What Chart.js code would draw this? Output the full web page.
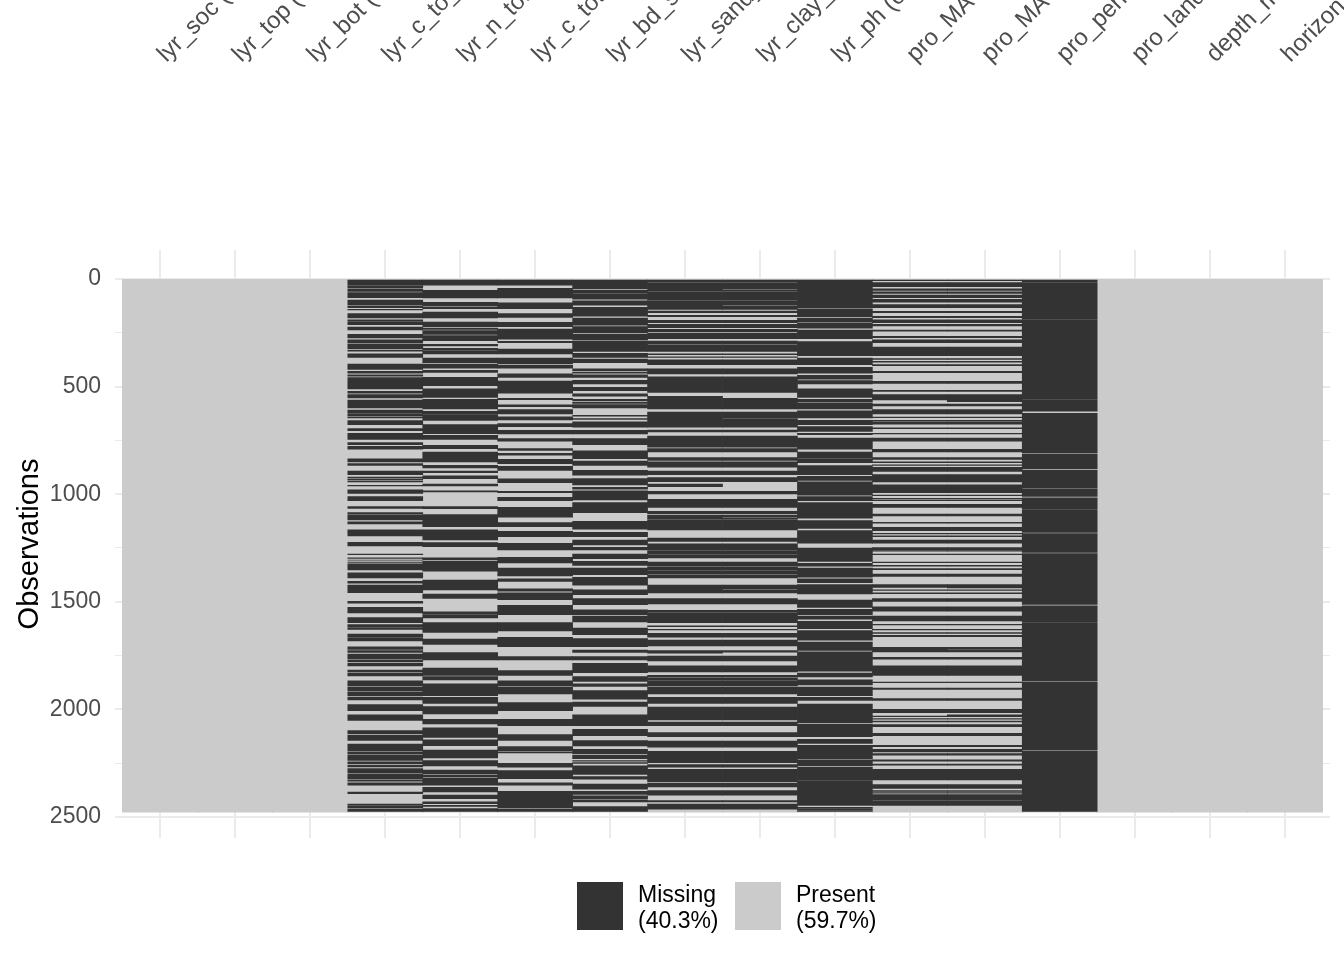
<!DOCTYPE html>
<html lang="en">
<head>
<meta charset="UTF-8">
<title>Missing values by variable</title>
<script src="https://cdn.jsdelivr.net/npm/chart.js"></script>
<style>
  body { margin: 0; background: #ffffff; font-family: 'Liberation Sans', Arial, sans-serif; }
  #wrap { position: relative; width: 1344px; height: 960px; }
  .key { position: absolute; top: 882px; width: 46px; height: 48px; }
  .lab { position: absolute; top: 881px; font-size: 23px; line-height: 26px; color: #000; white-space: nowrap; }
</style>
</head>
<body>
<div id="wrap">
  <canvas id="missChart"></canvas>
  <div class="key" style="left:577px;background:#333333"></div>
  <div class="lab" style="left:638px">Missing<br>(40.3%)</div>
  <div class="key" style="left:735px;background:#CBCBCB"></div>
  <div class="lab" style="left:796px">Present<br>(59.7%)</div>
</div>
<script>
// variable names (only the part visible in the picture)
const columns = ["lyr_soc (", "lyr_top (", "lyr_bot (", "lyr_c_to_", "lyr_n_tot", "lyr_c_tot",
  "lyr_bd_s", "lyr_sand_", "lyr_clay_", "lyr_ph (c", "pro_MA", "pro_MA", "pro_perm", "pro_land",
  "depth_m", "horizon"];
const nRows = 2475;
const majorTicks = [0, 500, 1000, 1500, 2000, 2500];
const minorTicks = [250, 750, 1250, 1750, 2250];

// missing runs [first row, last row] per variable
const miss_lyr_c_to = [[0,28],[32,40],[45,57],[63,87],[98,122],[127,133],[141,144],[161,181],[190,197],[201,212],[223,237],[257,274],[283,297],
  [302,325],[331,335],[348,364],[395,420],[429,438],[445,452],[458,511],[522,531],[537,553],[562,599],[609,624],[629,635],[640,646],[658,677],
  [695,705],[717,745],[760,770],[778,791],[836,850],[858,866],[892,909],[920,925],[931,934],[939,943],[959,962],[980,996],[1011,1030],
  [1058,1066],[1086,1092],[1096,1120],[1129,1138],[1166,1194],[1224,1241],[1278,1281],[1296,1298],[1306,1307],[1315,1317],[1324,1352],
  [1365,1389],[1405,1414],[1423,1458],[1498,1507],[1526,1552],[1574,1597],[1606,1616],[1620,1628],[1650,1662],[1667,1682],[1709,1721],
  [1727,1736],[1743,1764],[1770,1780],[1786,1798],[1817,1826],[1832,1845],[1867,1891],[1897,1913],[1919,1938],[1944,1956],[1978,2006],
  [2025,2052],[2099,2114],[2121,2145],[2161,2192],[2198,2206],[2212,2237],[2244,2254],[2260,2268],[2275,2294],[2300,2322],[2328,2334],
  [2341,2353],[2384,2392],[2440,2446],[2451,2458],[2464,2475]];
const miss_lyr_n_tot = [[0,28],[53,88],[108,125],[130,138],[153,181],[200,223],[229,234],[240,257],[263,287],[304,311],[322,328],[332,348],
  [367,389],[395,414],[424,434],[457,496],[510,550],[559,604],[615,627],[630,657],[677,719],[726,745],[773,788],[804,850],[866,878],[892,900],
  [915,928],[953,962],[984,990],[1058,1067],[1095,1151],[1166,1213],[1225,1244],[1296,1306],[1312,1358],[1399,1445],[1464,1485],[1547,1555],
  [1559,1575],[1597,1643],[1674,1698],[1736,1770],[1808,1842],[1848,1863],[1882,1936],[1944,1972],[1987,2021],[2046,2068],[2086,2130],
  [2142,2169],[2189,2226],[2238,2263],[2282,2300],[2306,2314],[2319,2322],[2325,2353],[2362,2384],[2399,2415],[2430,2438],[2446,2451],[2461,2475]];
const miss_lyr_c_tot = [[0,28],[43,88],[110,138],[160,178],[201,221],[232,280],[290,296],[325,348],[367,395],[401,414],[440,457],[474,531],
  [554,561],[585,593],[607,627],[640,655],[672,686],[703,720],[742,754],[788,796],[810,819],[838,858],[870,889],[929,946],[987,993],
  [1015,1030],[1061,1107],[1132,1151],[1173,1197],[1228,1259],[1293,1320],[1343,1380],[1393,1405],[1440,1451],[1458,1490],[1516,1560],
  [1597,1636],[1665,1709],[1755,1770],[1820,1842],[1867,1891],[1897,1928],[1969,2006],[2046,2076],[2117,2145],[2173,2192],[2198,2203],
  [2251,2269],[2285,2322],[2341,2353],[2381,2415],[2418,2458],[2464,2475]];
const miss_lyr_bd = [[0,45],[51,67],[71,94],[101,121],[132,138],[141,172],[181,214],[221,249],[256,283],[288,302],[302,336],[345,364],
  [372,389],[417,426],[432,438],[445,457],[471,488],[503,519],[534,544],[559,565],[572,578],[584,599],[633,637],[649,652],[664,688],
  [703,720],[742,770],[798,835],[846,866],[889,912],[928,957],[968,977],[984,1027],[1039,1086],[1126,1163],[1177,1197],[1213,1236],
  [1247,1259],[1278,1300],[1312,1331],[1343,1374],[1386,1423],[1445,1467],[1485,1513],[1538,1560],[1566,1594],[1622,1653],[1671,1709],
  [1724,1736],[1755,1770],[1786,1829],[1848,1870],[1882,1894],[1913,1953],[1966,1987],[2025,2076],[2093,2122],[2145,2170],[2186,2206],
  [2213,2229],[2238,2241],[2248,2251],[2263,2303],[2313,2325],[2347,2371],[2381,2396],[2402,2415],[2421,2430],[2452,2475]];
const miss_lyr_sand = [[0,12],[16,58],[62,96],[100,141],[149,156],[169,175],[192,203],[211,226],[234,246],[252,277],[288,302],[306,336],
  [348,352],[361,364],[376,398],[417,441],[454,527],[545,604],[618,688],[702,711],[730,781],[788,804],[830,843],[850,874],[892,909],
  [923,942],[953,965],[987,999],[1024,1061],[1080,1092],[1098,1117],[1121,1166],[1204,1219],[1231,1261],[1265,1277],[1281,1296],
  [1315,1335],[1339,1354],[1358,1372],[1376,1389],[1423,1459],[1485,1510],[1540,1550],[1554,1597],[1612,1616],[1628,1631],[1647,1665],
  [1678,1705],[1727,1739],[1752,1775],[1798,1826],[1842,1851],[1855,1866],[1870,1891],[1897,1928],[1944,1972],[1990,2049],[2059,2076],
  [2108,2127],[2148,2176],[2195,2248],[2257,2269],[2279,2337],[2344,2361],[2378,2399],[2424,2430],[2440,2464]];
const miss_lyr_clay = [[0,12],[16,46],[50,58],[62,96],[100,120],[124,141],[149,156],[169,175],[192,203],[211,226],[234,246],[252,277],
  [288,302],[306,336],[348,352],[361,364],[376,398],[417,441],[454,527],[554,604],[618,644],[648,688],[702,711],[730,781],[788,804],
  [830,843],[850,874],[892,909],[923,942],[987,999],[1024,1061],[1080,1092],[1098,1106],[1110,1117],[1121,1166],[1204,1219],[1231,1261],
  [1265,1277],[1281,1296],[1315,1335],[1339,1354],[1358,1372],[1376,1389],[1423,1440],[1444,1459],[1485,1510],[1540,1550],[1554,1597],
  [1612,1616],[1628,1631],[1647,1665],[1678,1705],[1727,1734],[1752,1775],[1798,1826],[1842,1851],[1855,1866],[1870,1891],[1897,1928],
  [1944,1972],[1990,2049],[2059,2076],[2108,2127],[2148,2176],[2195,2248],[2257,2269],[2279,2337],[2344,2361],[2378,2399],[2424,2430],[2440,2464]];
const miss_lyr_ph = [[0,133],[139,175],[181,198],[204,228],[237,277],[291,356],[367,398],[410,438],[448,465],[472,488],[510,550],[559,572],
  [578,604],[612,646],[657,677],[686,708],[717,723],[739,791],[804,832],[836,853],[867,909],[917,936],[943,1004],[1011,1030],[1039,1112],
  [1123,1159],[1169,1228],[1250,1312],[1321,1334],[1343,1386],[1393,1411],[1420,1464],[1492,1526],[1535,1560],[1566,1581],[1591,1625],
  [1634,1679],[1687,1726],[1733,1823],[1832,1849],[1863,1887],[1897,1936],[1944,1959],[1975,2062],[2068,2127],[2139,2158],[2167,2229],
  [2235,2263],[2269,2330],[2334,2415],[2418,2446],[2455,2460],[2463,2468],[2471,2475]];
const miss_pro_ma1 = [[0,8],[17,36],[46,53],[59,67],[74,87],[94,107],[119,133],[150,156],[173,180],[189,203],[211,218],[237,242],[266,273],
  [283,296],[316,356],[370,373],[383,386],[398,403],[429,435],[475,485],[517,522],[537,562],[581,590],[607,627],[641,644],[657,660],
  [664,674],[692,695],[717,720],[739,754],[791,804],[830,838],[850,853],[863,866],[875,894],[909,943],[957,993],[1004,1007],[1019,1022],
  [1027,1030],[1047,1061],[1092,1101],[1131,1135],[1154,1169],[1182,1185],[1194,1197],[1213,1228],[1248,1259],[1262,1265],[1278,1281],
  [1315,1318],[1331,1334],[1346,1351],[1371,1382],[1420,1433],[1444,1447],[1459,1462],[1485,1498],[1523,1544],[1566,1589],[1605,1608],
  [1628,1631],[1643,1647],[1656,1662],[1712,1733],[1758,1767],[1798,1842],[1873,1876],[1901,1907],[1950,1959],[2000,2015],[2031,2034],
  [2043,2046],[2055,2059],[2071,2080],[2111,2122],[2167,2173],[2186,2198],[2206,2213],[2235,2241],[2254,2260],[2279,2328],[2350,2368],
  [2378,2381],[2387,2390],[2396,2423],[2427,2446]];
const miss_pro_ma2 = [[0,8],[17,36],[46,53],[59,67],[74,87],[94,107],[119,133],[150,156],[173,180],[189,203],[211,218],[237,242],[266,273],
  [283,296],[316,356],[370,373],[383,386],[398,403],[429,435],[475,485],[517,522],[537,570],[581,590],[607,627],[641,644],[657,660],
  [664,674],[692,695],[717,720],[739,754],[791,804],[830,838],[850,853],[863,866],[875,894],[909,943],[957,993],[1004,1007],[1019,1022],
  [1027,1030],[1047,1061],[1092,1101],[1131,1135],[1154,1169],[1182,1185],[1194,1197],[1213,1228],[1248,1259],[1262,1265],[1278,1281],
  [1315,1318],[1331,1334],[1346,1351],[1371,1382],[1420,1436],[1444,1447],[1459,1462],[1485,1498],[1523,1544],[1566,1589],[1605,1608],
  [1628,1631],[1643,1647],[1656,1662],[1712,1718],[1722,1733],[1758,1767],[1798,1842],[1873,1876],[1901,1907],[1950,1959],[2000,2015],
  [2025,2030],[2031,2034],[2043,2046],[2055,2059],[2071,2080],[2111,2122],[2167,2173],[2186,2198],[2206,2213],[2235,2241],[2254,2260],
  [2279,2328],[2350,2368],[2378,2381],[2387,2390],[2396,2423],[2427,2446]];
const miss_pro_perm = [[0,13],[16,185],[188,557],[560,614],[624,808],[814,882],[889,971],[975,1010],[1017,1069],[1072,1178],[1183,1271],
  [1276,1512],[1519,1596],[1599,1658],[1661,1723],[1726,1869],[1874,2188],[2193,2364],[2367,2475]];

const missingByColumn = [[], [], [], miss_lyr_c_to, miss_lyr_n_tot, miss_lyr_c_tot, miss_lyr_bd, miss_lyr_sand,
  miss_lyr_clay, miss_lyr_ph, miss_pro_ma1, miss_pro_ma2, miss_pro_perm, [], [], []];

const missingBars = [];
missingByColumn.forEach((runs, i) => {
  runs.forEach(r => missingBars.push({ x: i, y: [r[0], r[1]] }));
});
const presentBars = columns.map((c, i) => ({ x: i, y: [0, nRows] }));

// column names at the top, rotated and cut by the top edge
const topLabels = {
  id: 'topLabels',
  afterDraw(chart) {
    const ctx = chart.ctx;
    const xs = chart.scales.x;
    ctx.save();
    ctx.font = '24px "Liberation Sans", Arial, sans-serif';
    ctx.fillStyle = '#4D4D4D';
    ctx.textAlign = 'left';
    ctx.textBaseline = 'alphabetic';
    columns.forEach((name, i) => {
      ctx.save();
      ctx.translate(xs.getPixelForValue(i) + 6, 63);
      ctx.rotate(-Math.PI / 4);
      ctx.fillText(name, 0, 0);
      ctx.restore();
    });
    ctx.restore();
  }
};

new Chart(document.getElementById('missChart'), {
  type: 'bar',
  data: {
    datasets: [
      { label: 'Missing', data: missingBars, backgroundColor: '#333333', order: 0 },
      { label: 'Present', data: presentBars, backgroundColor: '#CBCBCB', order: 1, inflateAmount: 1 }
    ]
  },
  options: {
    responsive: true,
    maintainAspectRatio: false,
    animation: false,
    events: [],
    layout: { padding: { top: 250, bottom: 122, left: 0, right: 14 } },
    datasets: {
      bar: { grouped: false, barPercentage: 1, categoryPercentage: 1, borderWidth: 0 }
    },
    plugins: { legend: { display: false }, tooltip: { enabled: false } },
    scales: {
      x: {
        type: 'linear',
        min: -0.607,
        max: 15.607,
        offset: false,
        afterBuildTicks: s => { s.ticks = columns.map((c, i) => ({ value: i })); },
        afterFit: s => { s.height = 0; },
        ticks: { display: false },
        grid: { color: '#EBEBEB', lineWidth: 2, drawTicks: false, offset: false },
        border: { display: false }
      },
      y: {
        type: 'linear',
        reverse: true,
        min: -135,
        max: 2598,
        afterBuildTicks: s => {
          s.ticks = majorTicks.concat(minorTicks).sort((a, b) => a - b).map(v => ({ value: v }));
        },
        afterFit: s => { s.width = 115; },
        ticks: {
          autoSkip: false,
          padding: 14,
          color: '#4D4D4D',
          font: { family: "'Liberation Sans', Arial, sans-serif", size: 23 },
          callback: v => majorTicks.includes(v) ? String(v) : ''
        },
        grid: {
          color: '#EBEBEB',
          drawTicks: false,
          lineWidth: c => (c.tick && majorTicks.includes(c.tick.value)) ? 2 : 1
        },
        border: { display: false },
        title: {
          display: true,
          text: 'Observations',
          color: '#000000',
          padding: { top: 13, bottom: 0 },
          font: { family: "'Liberation Sans', Arial, sans-serif", size: 29 }
        }
      }
    }
  },
  plugins: [topLabels]
});
</script>
</body>
</html>
